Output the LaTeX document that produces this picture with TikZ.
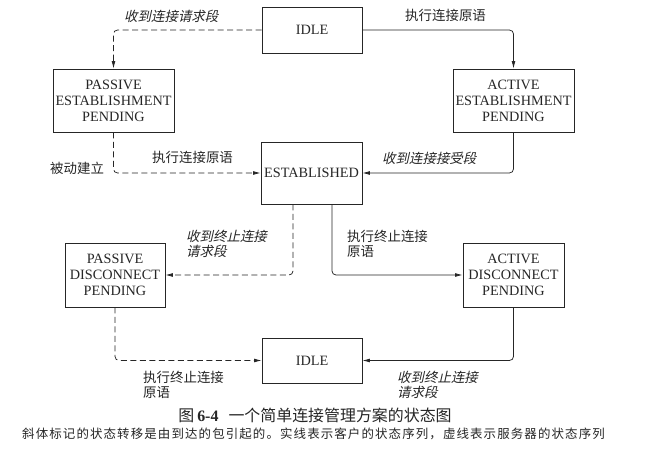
\documentclass[tikz,border=0pt]{standalone}
\usepackage{fontspec}
\setmainfont{Liberation Serif}
\newfontfamily\cjk{Noto Sans CJK SC}
\newfontfamily\cjkit[FakeSlant=0.22]{Noto Sans CJK SC}
\newfontfamily\cjksmall[LetterSpace=9]{Noto Sans CJK SC}
\usetikzlibrary{arrows.meta}
\begin{document}
\begin{tikzpicture}[x=1bp,y=-1bp,
  state/.style={draw=black!85, line width=0.75bp, rectangle, align=center,
    inner sep=0pt, font=\fontsize{14.3}{16}\selectfont, text=black!85},
  conn/.style={line width=0.75bp, draw=black!85, rounded corners=4bp,
    -{Latex[length=7.5bp,width=3.8bp]}},
  dashconn/.style={conn, dash pattern=on 6bp off 3.5bp},
  lab/.style={font=\cjk\fontsize{13.5}{15.5}\selectfont, text=black!85, align=left, inner sep=0pt},
  labit/.style={font=\cjkit\fontsize{13.5}{15.5}\selectfont, text=black!85, align=left, inner sep=0pt}
]
\useasboundingbox (0,0) rectangle (651,452);
\fill[white] (0,0) rectangle (651,452);

% states
\node[state, minimum width=100bp, minimum height=46bp] (idle1) at (312,30) {IDLE};
\node[state, minimum width=121bp, minimum height=63bp] (pep) at (113.5,100.5) {PASSIVE\\ESTABLISHMENT\\PENDING};
\node[state, minimum width=121bp, minimum height=63bp] (aep) at (513.5,100.5) {ACTIVE\\ESTABLISHMENT\\PENDING};
\node[state, minimum width=101bp, minimum height=62bp] (est) at (311.5,173) {ESTABLISHED};
\node[state, minimum width=100bp, minimum height=64bp] (pdp) at (115,275) {PASSIVE\\DISCONNECT\\PENDING};
\node[state, minimum width=101bp, minimum height=64bp] (adp) at (513.5,275) {ACTIVE\\DISCONNECT\\PENDING};
\node[state, minimum width=100bp, minimum height=45bp] (idle2) at (312,360.5) {IDLE};

% connectors
\draw[dashconn] (idle1.west) -| (pep.north);
\draw[conn] (idle1.east) -| (aep.north);
\draw[dashconn] (pep.south) |- (est.west);
\draw[conn] (aep.south) |- (est.east);
\draw[dashconn] ([xshift=-18.5bp]est.south) |- (pdp.east);
\draw[conn] ([xshift=20.5bp]est.south) |- (adp.west);
\draw[dashconn] (pdp.south) |- (idle2.west);
\draw[conn] (adp.south) |- (idle2.east);

% labels
\node[labit, anchor=west] (l1) at (124,16) {收到连接请求段};
\node[lab, anchor=west] (l2) at (405,15) {执行连接原语};
\node[lab, anchor=west] (l3) at (152,157) {执行连接原语};
\node[lab, anchor=west] (l4) at (50,168) {被动建立};
\node[labit, anchor=west] (l5) at (382,158) {收到连接接受段};
\node[labit, anchor=north west] (l6) at (186,230) {收到终止连接\\请求段};
\node[lab, anchor=north west] (l7) at (347,230) {执行终止连接\\原语};
\node[lab, anchor=north west] (l8) at (143,371) {执行终止连接\\原语};
\node[labit, anchor=north west] (l9) at (397,371) {收到终止连接\\请求段};

% caption
\node[inner sep=0pt, text=black!85] (cap1) at (315,415)
  {{\cjk\fontsize{16}{18}\selectfont 图}\hspace{3bp}{\fontsize{16}{18}\selectfont\bfseries 6-4}\hspace{10bp}{\cjk\fontsize{16}{18}\selectfont 一个简单连接管理方案的状态图}};
\node[inner sep=0pt, text=black!85] (cap2) at (313.5,434)
  {\cjksmall\fontsize{12.5}{14}\selectfont 斜体标记的状态转移是由到达的包引起的。实线表示客户的状态序列，虚线表示服务器的状态序列};
\end{tikzpicture}
\end{document}
